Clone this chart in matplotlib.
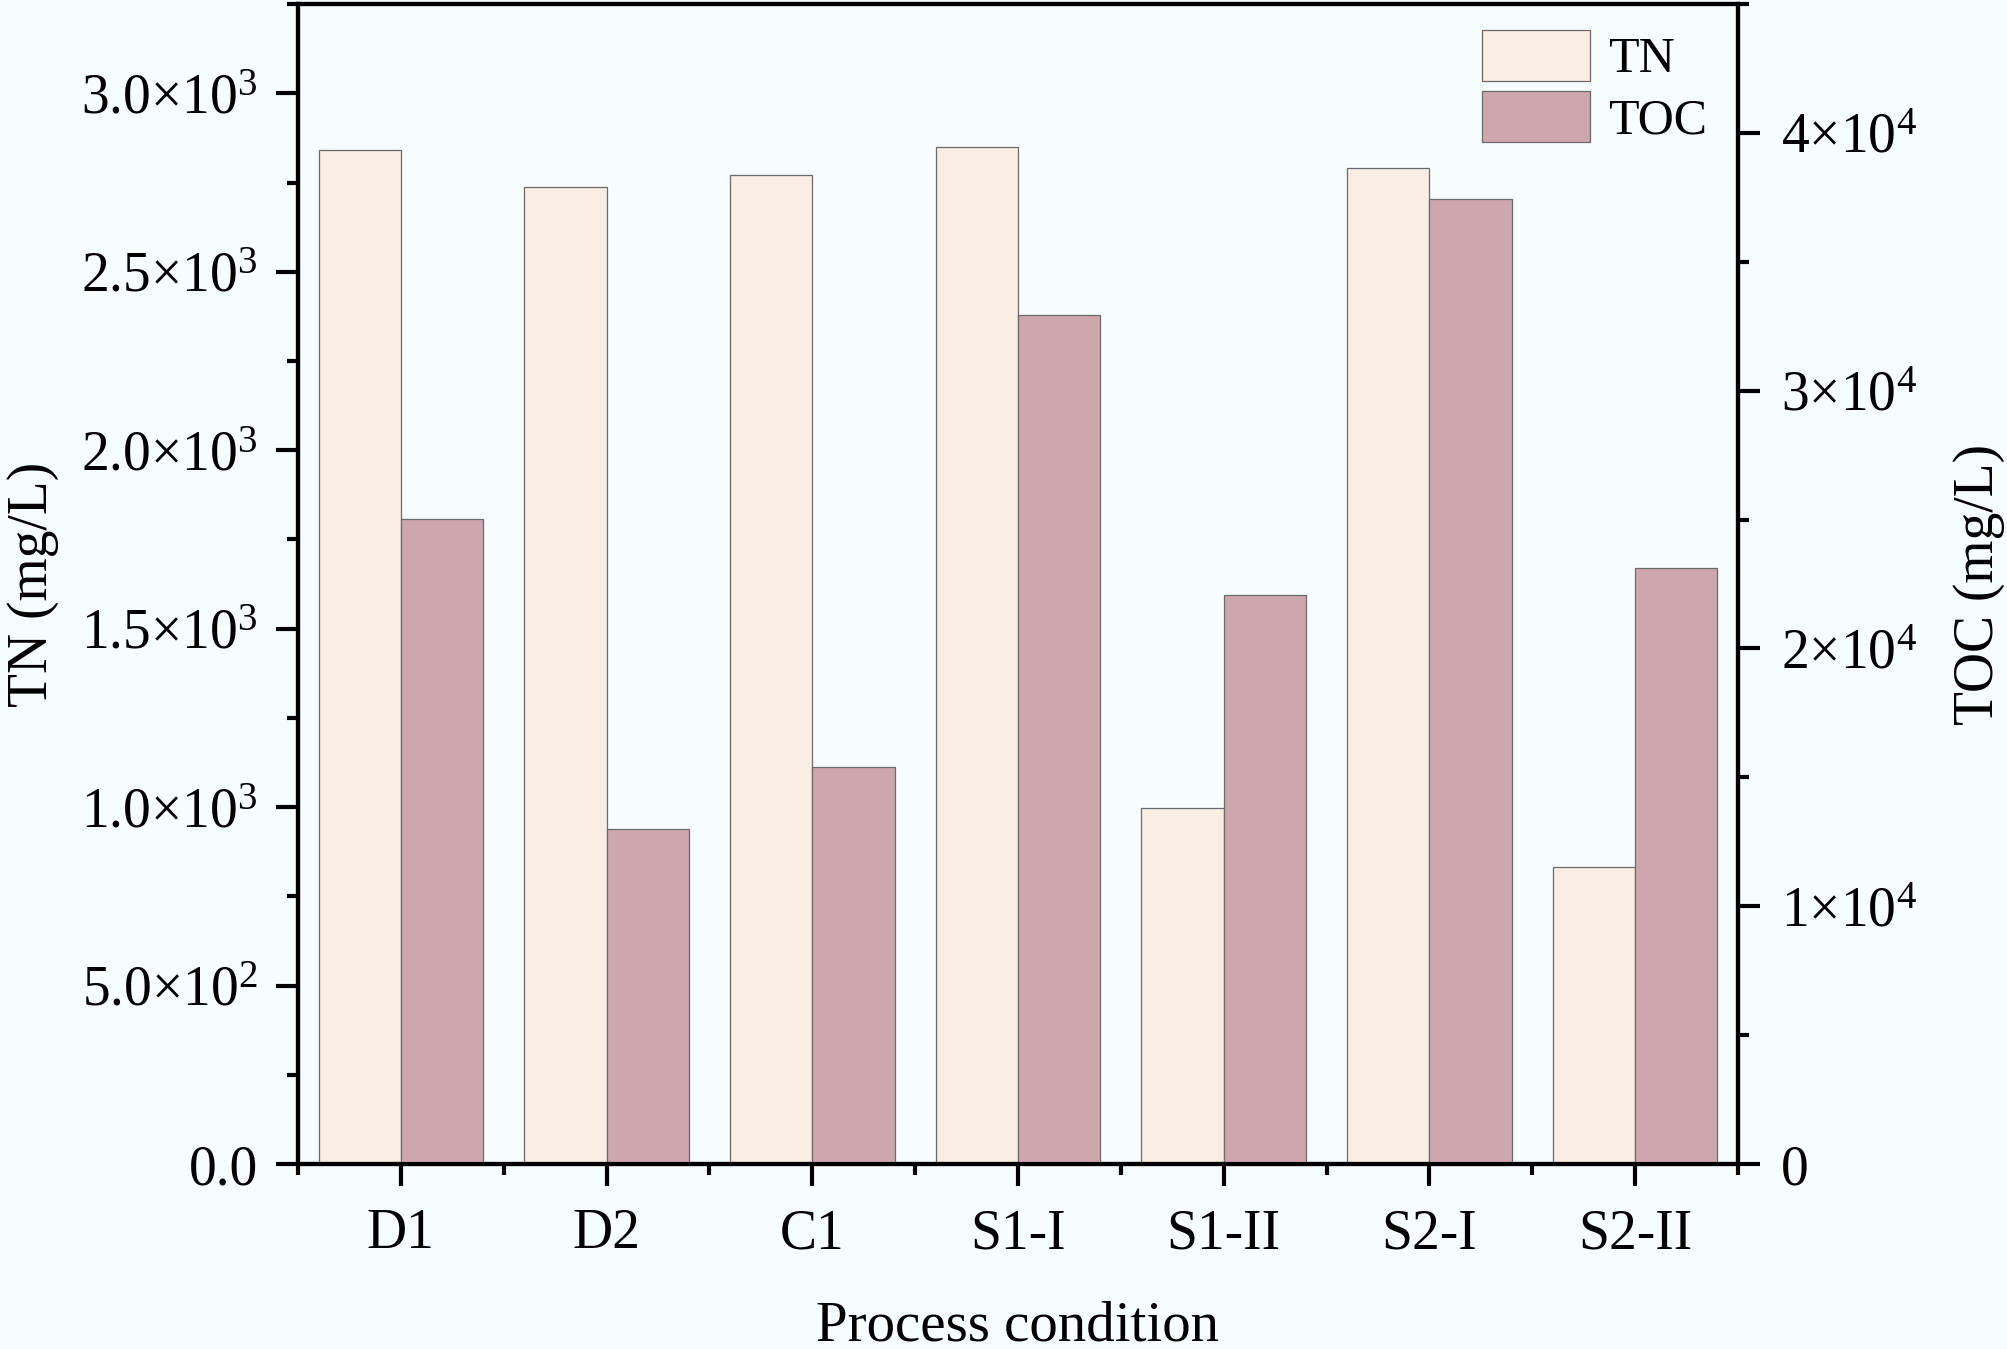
import matplotlib
matplotlib.use('Agg')
import matplotlib.pyplot as plt
import numpy as np
from matplotlib.ticker import MultipleLocator, FuncFormatter

# data
conditions = ['D1', 'D2', 'C1', 'S1-I', 'S1-II', 'S2-I', 'S2-II']
tn = [2840, 2737, 2770, 2850, 997, 2790, 832]              # mg/L, left axis
toc = [25040, 12980, 15390, 32950, 22090, 37440, 23140]    # mg/L, right axis

c_tn = '#FAEDE4'
c_toc = '#CEA7AE'
c_edge = '#6A6A6A'
bg = '#F7FCFE'

plt.rcParams['font.family'] = ['Liberation Serif', 'DejaVu Serif']
plt.rcParams['mathtext.default'] = 'regular'

fig = plt.figure(figsize=(20.08, 13.49), dpi=100, facecolor=bg)
ax = fig.add_axes([0.1484, 0.1371, 0.7171, 0.8599])
ax.set_facecolor(bg)
ax2 = ax.twinx()

x = np.arange(len(conditions))
w = 0.4
b1 = ax.bar(x - w / 2, tn, w, color=c_tn, edgecolor=c_edge, linewidth=0.9, label='TN')
b2 = ax2.bar(x + w / 2, toc, w, color=c_toc, edgecolor=c_edge, linewidth=0.9, label='TOC')

ax.set_xlim(-0.5, len(conditions) - 0.5)
ax.set_ylim(0, 3250)
ax2.set_ylim(0, 45000)

# ticks
ax.set_xticks(x)
ax.set_xticklabels(conditions)
ax.xaxis.set_minor_locator(MultipleLocator(1, offset=0.5))
ax.yaxis.set_major_locator(MultipleLocator(500))
ax.yaxis.set_minor_locator(MultipleLocator(250))
ax2.yaxis.set_major_locator(MultipleLocator(10000))
ax2.yaxis.set_minor_locator(MultipleLocator(5000))

def fmt_left(v, pos):
    if v == 0:
        return '0.0'
    e = int(np.floor(np.log10(abs(v))))
    return '%.1f×10$^{%d}$' % (v / 10 ** e, e)

def fmt_right(v, pos):
    if v == 0:
        return '0'
    e = int(np.floor(np.log10(abs(v))))
    return '%d×10$^{%d}$' % (round(v / 10 ** e), e)

ax.yaxis.set_major_formatter(FuncFormatter(fmt_left))
ax2.yaxis.set_major_formatter(FuncFormatter(fmt_right))

for a in (ax, ax2):
    for s in a.spines.values():
        s.set_linewidth(3)
    a.tick_params(which='major', length=16, width=3, direction='out', labelsize=40)
    a.tick_params(which='minor', length=8, width=3, direction='out')
ax.tick_params(axis='y', pad=13)
ax.tick_params(axis='x', which='major', pad=16)
ax2.tick_params(axis='y', pad=15)

ax.set_xlabel('Process condition', fontsize=41, labelpad=29)
ax.set_ylabel('TN (mg/L)', fontsize=40, labelpad=16)
ax2.set_ylabel('TOC (mg/L)', fontsize=40, labelpad=26)

ax2.legend([b1, b2], ['TN', 'TOC'], loc='upper left', bbox_to_anchor=(0.822, 0.978),
           frameon=False, fontsize=36, handlelength=2.16, handleheight=1.2,
           handletextpad=0.36, labelspacing=0.15, borderpad=0, borderaxespad=0)

fig.savefig('out.png', dpi=100, facecolor=bg)
